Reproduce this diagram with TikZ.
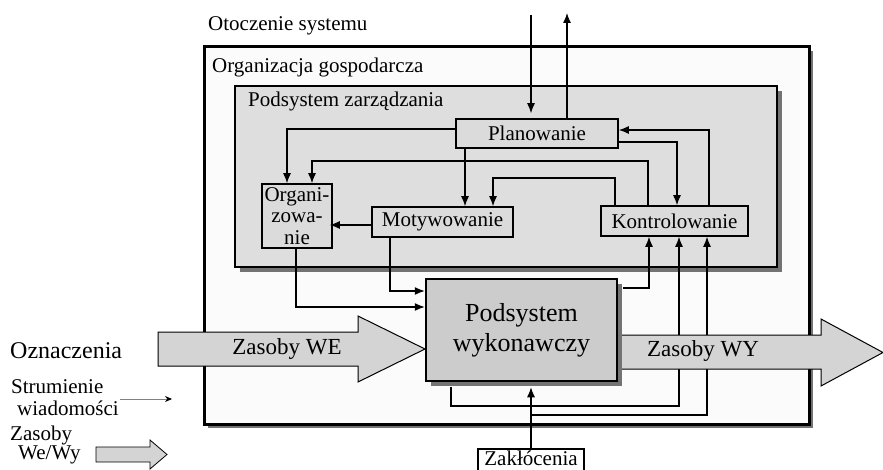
\documentclass[tikz,border=0pt]{standalone}
\usepackage{fontspec}
\setmainfont{Liberation Serif}
\usetikzlibrary{arrows.meta,shadows}
\definecolor{outerfill}{gray}{0.985}
\definecolor{innerfill}{gray}{0.87}
\definecolor{boxfill}{gray}{0.86}
\definecolor{wykfill}{gray}{0.80}
\definecolor{arrfill}{gray}{0.83}
\definecolor{shadowc}{gray}{0.45}
\begin{document}
\begin{tikzpicture}[x=1pt,y=-1pt,
  txt/.style={font=\fontsize{21}{22}\selectfont, inner sep=0pt},
  box/.style={draw, line width=1.6pt, fill=boxfill, inner sep=0pt,
    font=\fontsize{21}{21.5}\selectfont, align=center},
  shadowed/.style={drop shadow={shadow xshift=5pt, shadow yshift=-5pt,
    fill=shadowc, opacity=1}},
  conn/.style={line width=1.2pt, -{Latex[length=10pt,width=8pt]}},
  resarrow/.style={line width=1pt, fill=arrfill},
]
\useasboundingbox (0,0) rectangle (883,470);

% outer frame: the organisation
\fill[shadowc] (208,51) rectangle (813,428);
\draw[line width=3pt, fill=outerfill] (204,47) rectangle (809,424);
% management subsystem
\fill[shadowc] (240,91) rectangle (782,272);
\draw[line width=2pt, fill=innerfill] (235,86) rectangle (777,267);

% captions
\node[txt, anchor=base west] (otoczenie) at (208,31) {Otoczenie systemu};
\node[txt, anchor=base west] (organizacja) at (212,73) {Organizacja gospodarcza};
\node[txt, anchor=base west] (podzarz) at (248,107) {Podsystem zarządzania};

% function boxes
\node[box, minimum width=162pt, minimum height=29pt] (plan) at (537,133.5) {Planowanie};
\node[box, minimum width=70pt, minimum height=64pt] (org) at (297,216) {Organi-\\zowa-\\nie};
\node[box, minimum width=141pt, minimum height=30pt] (mot) at (442.5,222) {Motywowanie};
\node[box, minimum width=147pt, minimum height=30pt] (kon) at (674.5,221) {Kontrolowanie};
\node[box, shadowed, line width=2.5pt, fill=wykfill, minimum width=191pt,
  minimum height=102pt, font=\fontsize{26}{30}\selectfont] (wyk) at (521.5,330)
  {Podsystem\\wykonawczy};
% disturbance box runs past the lower edge
\node[box, fill=white, line width=1.3pt, minimum width=106pt, minimum height=28pt]
  (zak) at (531,463) {};
\node[txt] (zaktxt) at (531,458.5) {Zakłócenia};

% environment in / out
\coordinate (envin) at (531,15);
\coordinate (envout) at (567,13);
\draw[conn, shorten >=5pt] (envin) -- (envin |- plan.north);
\draw[conn] (plan.north -| envout) -- (envout);

% information flows inside management
\draw[conn] (plan.west |- 0,129) -| (287,0 |- org.north);
\draw[conn] (kon.north -| 648,0) |- (312,161) -- (312,0 |- org.north);
\draw[conn] (plan.south -| 465,0) -- (465,0 |- mot.north);
\draw[conn] (kon.north -| 615,0) |- (493,178) -- (493,0 |- mot.north);
\draw[conn] (plan.east |- 0,142) -| (677,0 |- kon.north);
\draw[conn] (kon.north -| 709,0) |- (plan.east |- 0,130);
\draw[conn, shorten >=-3pt] (mot.west |- 0,225) -- (org.east |- 0,225);

% management to execution
\draw[conn] (org.south -| 296,0) |- (wyk.west |- 0,307);
\draw[conn] (mot.south -| 390,0) |- (wyk.west |- 0,291);

% feedback to control
\draw[conn, shorten <=5pt] (wyk.east |- 0,288) -| (649,0 |- kon.south);
\draw[conn, shorten <=5pt] (wyk.south -| 451,0) |- (679,406) -- (679,0 |- kon.south);
\coordinate (zbr) at (531,415);
\draw[conn] (zbr) -| (707,0 |- kon.south);
\draw[conn, shorten >=5pt] (zak.north) -- (zak.north |- wyk.south);

% resource flows
\draw[resarrow] (158,332) -- (358,332) -- (358,316) -- (425,349) -- (358,382)
  -- (358,366) -- (158,366) -- cycle;
\node[txt, font=\fontsize{23}{24}\selectfont] (zwe) at (287,349) {Zasoby WE};
\fill[arrfill] (622,335) -- (821,335) -- (821,319) -- (883,352.5) -- (821,386)
  -- (821,369) -- (622,369) -- cycle;
\draw[line width=1pt] (622,335) -- (821,335) -- (821,319) -- (883,352.5) -- (821,386)
  -- (821,369) -- (622,369);
\node[txt, font=\fontsize{23}{24}\selectfont] (zwy) at (703,351) {Zasoby WY};

% legend
\node[inner sep=0pt, font=\fontsize{24}{26}\selectfont, anchor=base west] (ozn)
  at (10,358) {Oznaczenia};
\node[txt, anchor=base west] (str1) at (11,393) {Strumienie};
\node[txt, anchor=base west] (str2) at (17,415) {wiadomości};
\coordinate (la) at (120,399);
\coordinate (lb) at (172,399);
\draw[gray, line width=0.8pt, -{Stealth[length=7pt,width=6pt,color=black]}] (la) -- (lb);
\node[txt, anchor=base west] (zl1) at (10,440) {Zasoby};
\node[txt, anchor=base west] (zl2) at (18,459) {We/Wy};
\draw[line width=0.8pt, fill=arrfill] (96,447) -- (150,447) -- (150,440) -- (167,454.5)
  -- (150,469) -- (150,462) -- (96,462) -- cycle;
\end{tikzpicture}
\end{document}
